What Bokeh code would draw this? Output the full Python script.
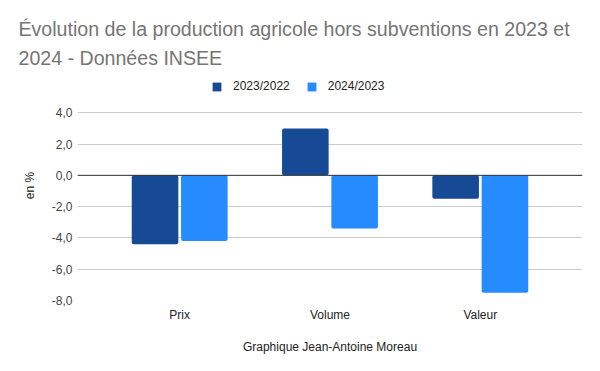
from bokeh.plotting import figure
from bokeh.models import (FactorRange, Range1d, FixedTicker, Span, Legend, LegendItem,
                          ColumnDataSource)
from bokeh.transform import dodge
from bokeh.embed import file_html
from bokeh.resources import INLINE

categories = ["Prix", "Volume", "Valeur"]
series_names = ["2023/2022", "2024/2023"]
values_2023 = [-4.4, 3.0, -1.5]
values_2024 = [-4.2, -3.4, -7.5]
tick_values = [-8, -6, -4, -2, 0, 2, 4]
tick_labels = ["-8,0", "-6,0", "-4,0", "-2,0", "0,0", "2,0", "4,0"]
title_text = "Évolution de la production agricole hors subventions en 2023 et\n2024 - Données INSEE"

colors = ["#174a95", "#268bff"]
FONT = "Liberation Sans"

source = ColumnDataSource(dict(cat=categories, v1=values_2023, v2=values_2024))

x_range = FactorRange(*categories, range_padding=0.18, range_padding_units="absolute")
# the top of the range leaves room for the legend inside the frame, above the 4,0 gridline
p = figure(width=600, height=371, x_range=x_range, y_range=Range1d(-8, 6.7),
           output_backend="svg", toolbar_location=None,
           min_border_left=77, min_border_right=18, min_border_top=70, min_border_bottom=71)

r1 = p.vbar(x=dodge("cat", -0.164, range=p.x_range), top="v1", bottom=0, width=0.31,
            source=source, fill_color=colors[0], line_color=None, border_radius=2)
r2 = p.vbar(x=dodge("cat", 0.164, range=p.x_range), top="v2", bottom=0, width=0.31,
            source=source, fill_color=colors[1], line_color=None, border_radius=2)

p.add_layout(Span(location=0, dimension="width", line_color="#333333", line_width=1))

p.title.text = title_text
p.title.text_font = FONT
p.title.text_font_size = "19.6px"
p.title.text_font_style = "normal"
p.title.text_color = "#757575"
p.title.text_line_height = 1.3
p.title.align = "left"
p.title.offset = -59
p.title.standoff = 3

legend = Legend(items=[LegendItem(label=series_names[0], renderers=[r1]),
                       LegendItem(label=series_names[1], renderers=[r2])],
                orientation="horizontal", location=(134, 207),
                glyph_width=11, glyph_height=11, label_standoff=11, spacing=16,
                label_text_font=FONT, label_text_font_size="12px", label_text_color="#222222",
                border_line_color=None, background_fill_alpha=0, margin=0, padding=0)
p.add_layout(legend)

p.outline_line_color = None
p.xgrid.grid_line_color = None
p.ygrid.grid_line_color = "#cccccc"
p.yaxis.ticker = FixedTicker(ticks=tick_values)
p.yaxis.major_label_overrides = {v: s for v, s in zip(tick_values, tick_labels)}
p.yaxis.axis_label = "en %"
for ax in (p.xaxis[0], p.yaxis[0]):
    ax.axis_line_color = None
    ax.major_tick_line_color = None
    ax.minor_tick_line_color = None
    ax.major_tick_out = 0
    ax.major_tick_in = 0
    ax.minor_tick_out = 0
    ax.major_label_text_font = FONT
    ax.axis_label_text_font = FONT
    ax.axis_label_text_font_style = "normal"
    ax.axis_label_text_font_size = "12px"
    ax.axis_label_text_color = "#222222"
p.yaxis.major_label_text_font_size = "12px"
p.yaxis.major_label_text_color = "#444444"
p.yaxis.major_label_standoff = 5
p.xaxis.major_label_text_font_size = "12px"
p.xaxis.major_label_text_color = "#222222"
p.xaxis.axis_label = "Graphique Jean-Antoine Moreau"
p.xaxis.major_label_standoff = 7
p.xaxis.axis_label_standoff = 15
p.yaxis.axis_label_standoff = 12

open("out.html", "w").write(file_html(p, INLINE))
